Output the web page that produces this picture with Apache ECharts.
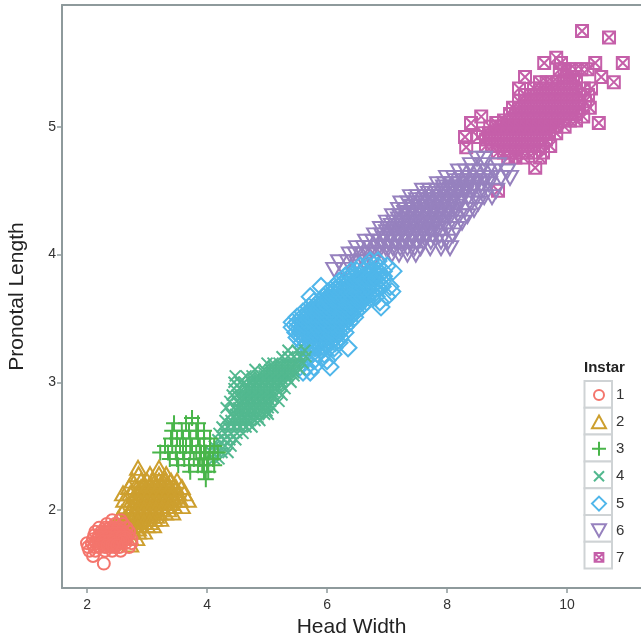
<!DOCTYPE html>
<html><head><meta charset="utf-8">
<style>html,body{margin:0;padding:0;background:#fff;overflow:hidden}#c{width:641px;height:638px}</style>
<script src="https://cdn.jsdelivr.net/npm/echarts@6/dist/echarts.min.js"></script>
</head><body><div id="c"></div>
<script>
// each row: [Pronotal Length, Head Width, Head Width, ...]
const instar1=[
[1.92,2.42,2.56],
[1.89,2.33,2.47,2.6],
[1.86,2.2,2.3,2.38,2.46,2.55,2.66],
[1.83,2.14,2.24,2.32,2.4,2.5,2.58,2.7],
[1.80,2.12,2.2,2.28,2.36,2.44,2.52,2.6,2.68],
[1.77,2.1,2.18,2.26,2.34,2.42,2.5,2.58,2.66,2.74],
[1.74,2.0,2.08,2.16,2.24,2.32,2.4,2.48,2.56,2.64,2.74],
[1.71,2.02,2.12,2.2,2.3,2.38,2.46,2.54,2.7],
[1.68,2.04,2.14,2.3,2.42,2.56],
[1.64,2.1],
[1.58,2.28],
[1.85,2.34,2.42,2.5],
[1.815,2.26,2.36,2.44,2.54,2.62],
[1.785,2.24,2.32,2.4,2.48,2.56,2.64],
[1.755,2.2,2.28,2.36,2.44,2.52,2.6],
[1.725,2.26,2.34,2.42,2.5]];
const instar2=[
[2.33,2.85,3.2],
[2.28,2.86,3.05,3.2,3.32],
[2.23,2.76,2.9,3.0,3.1,3.2,3.3,3.4,3.5],
[2.18,2.7,2.8,2.9,2.98,3.08,3.18,3.28,3.38,3.48,3.58],
[2.13,2.6,2.72,2.82,2.92,3.02,3.12,3.22,3.32,3.42,3.52,3.62],
[2.08,2.62,2.75,2.85,2.95,3.05,3.15,3.25,3.35,3.45,3.55,3.68],
[2.03,2.65,2.75,2.85,2.95,3.05,3.15,3.25,3.35,3.45,3.58],
[1.98,2.58,2.7,2.8,2.9,3.0,3.1,3.2,3.3,3.42],
[1.93,2.52,2.62,2.72,2.82,2.92,3.02,3.12,3.22],
[1.88,2.5,2.6,2.7,2.8,2.9,3.0,3.1],
[1.83,2.55,2.65,2.75,2.85,2.95],
[1.78,2.6,2.72,2.82],
[1.73,2.72],
[2.205,2.95,3.05,3.15,3.25,3.35],
[2.155,2.87,2.97,3.07,3.17,3.27,3.37,3.47],
[2.105,2.8,2.9,3.0,3.1,3.2,3.3,3.4,3.5],
[2.055,2.8,2.9,3.0,3.1,3.2,3.3,3.4],
[2.005,2.75,2.85,2.95,3.05,3.15,3.25,3.35],
[1.955,2.75,2.85,2.95,3.05,3.15],
[1.905,2.65,2.75,2.85,2.95,3.05],
[1.855,2.65,2.75,2.85]];
const instar3=[
[2.72,3.75],
[2.68,3.45,3.65,3.85],
[2.62,3.42,3.58,3.7,3.82,3.95],
[2.56,3.4,3.5,3.6,3.72,3.85,3.95,4.05],
[2.50,3.3,3.42,3.55,3.65,3.75,3.88,3.95,4.05,4.12],
[2.45,3.22,3.35,3.48,3.6,3.72,3.82,3.9,3.98,4.05,4.18],
[2.40,3.38,3.5,3.62,3.78,3.88,3.95,4.02,4.1],
[2.35,3.52,3.7,3.85,3.92,4.0,4.12],
[2.30,3.72,3.95,4.02],
[2.24,3.98]];
const instar4=[
[2.40,4.12,4.2],
[2.45,4.08,4.16,4.25,4.35],
[2.50,4.12,4.2,4.3,4.4],
[2.55,4.18,4.28,4.38,4.48],
[2.60,4.2,4.3,4.4,4.5,4.6],
[2.65,4.25,4.35,4.45,4.55,4.65,4.75],
[2.70,4.3,4.4,4.5,4.6,4.7,4.8,4.88],
[2.75,4.4,4.48,4.56,4.66,4.76,4.86,4.96,5.02],
[2.80,4.32,4.45,4.53,4.62,4.72,4.82,4.92,5.02,5.1],
[2.85,4.38,4.5,4.58,4.66,4.76,4.86,4.96,5.06,5.2],
[2.90,4.42,4.5,4.6,4.7,4.8,4.9,5.0,5.1,5.25],
[2.95,4.45,4.55,4.65,4.75,4.85,4.95,5.05,5.15,5.3],
[3.00,4.45,4.55,4.62,4.74,4.84,4.94,5.04,5.14,5.24,5.4],
[3.05,4.47,4.65,4.75,4.85,4.95,5.05,5.15,5.25,5.35,5.45],
[3.10,4.8,4.95,5.05,5.15,5.25,5.35,5.45,5.55],
[3.15,5.0,5.1,5.2,5.3,5.4,5.5,5.6],
[3.20,5.25,5.35,5.45,5.55,5.65],
[3.25,5.35,5.5,5.63],
[2.675,4.4,4.5,4.6,4.7],
[2.725,4.45,4.55,4.65,4.75,4.85],
[2.775,4.5,4.6,4.7,4.8,4.9,5.0],
[2.825,4.55,4.65,4.75,4.85,4.95,5.05],
[2.875,4.6,4.7,4.8,4.9,5.0,5.1],
[2.925,4.6,4.7,4.8,4.9,5.0,5.1,5.2],
[2.975,4.65,4.75,4.85,4.95,5.05,5.15,5.25],
[3.025,4.75,4.85,4.95,5.05,5.15,5.25,5.35],
[3.075,4.95,5.05,5.15,5.25,5.35,5.45],
[3.125,5.1,5.2,5.3,5.4,5.5]];
const instar5=[
[3.08,5.6,5.72],
[3.12,5.55,5.66,5.78,6.05],
[3.17,5.65,5.78,6.0],
[3.22,5.65,5.75,5.85,5.95,6.1],
[3.27,5.6,5.7,5.8,5.88,5.96,6.04,6.12,6.35],
[3.31,5.58,5.66,5.74,5.82,5.9,5.98,6.06,6.14,6.2],
[3.35,5.5,5.58,5.66,5.74,5.82,5.9,5.98,6.06,6.14,6.22],
[3.39,5.48,5.56,5.64,5.72,5.8,5.88,5.96,6.04,6.12,6.2,6.3],
[3.43,5.42,5.5,5.58,5.66,5.74,5.82,5.9,5.98,6.06,6.14,6.22,6.3],
[3.47,5.42,5.5,5.58,5.66,5.74,5.82,5.9,5.98,6.06,6.14,6.22,6.3,6.38],
[3.51,5.5,5.58,5.66,5.74,5.82,5.9,5.98,6.06,6.14,6.22,6.3,6.38,6.46],
[3.55,5.6,5.68,5.76,5.84,5.92,6.0,6.08,6.16,6.24,6.32,6.4,6.48],
[3.59,5.7,5.78,5.86,5.94,6.02,6.1,6.18,6.26,6.34,6.42,6.5,6.58,6.9],
[3.63,5.78,5.86,5.94,6.02,6.1,6.18,6.26,6.34,6.42,6.5,6.58,6.66,6.88],
[3.67,5.72,5.95,6.02,6.1,6.18,6.26,6.34,6.42,6.5,6.58,6.66,6.74,6.82,7.0],
[3.71,6.02,6.1,6.18,6.26,6.34,6.42,6.5,6.58,6.66,6.74,6.82,7.08],
[3.75,5.9,6.12,6.2,6.28,6.36,6.44,6.52,6.6,6.68,6.76,6.84,6.92,7.05],
[3.79,6.2,6.28,6.36,6.44,6.52,6.6,6.68,6.76,6.84,6.92],
[3.83,6.3,6.38,6.46,6.54,6.62,6.7,6.78,6.86,6.94],
[3.87,6.4,6.5,6.6,6.7,6.78,6.86,6.94,7.1],
[3.91,6.55,6.7,6.85,7.0],
[3.95,6.72,6.85],
[3.33,5.62,5.7,5.78,5.86,5.94,6.02,6.1],
[3.37,5.62,5.7,5.78,5.86,5.94,6.02,6.1,6.18],
[3.41,5.6,5.68,5.76,5.84,5.92,6.0,6.08,6.16],
[3.45,5.54,5.62,5.7,5.78,5.86,5.94,6.02,6.1,6.18,6.26],
[3.49,5.62,5.7,5.78,5.86,5.94,6.02,6.1,6.18,6.26,6.34],
[3.53,5.68,5.76,5.84,5.92,6.0,6.08,6.16,6.24,6.32,6.4],
[3.57,5.76,5.84,5.92,6.0,6.08,6.16,6.24,6.32,6.4],
[3.61,5.9,5.98,6.06,6.14,6.22,6.3,6.38,6.46,6.54],
[3.65,6.02,6.1,6.18,6.26,6.34,6.42,6.5,6.58],
[3.69,6.06,6.14,6.22,6.3,6.38,6.46,6.54,6.62,6.7],
[3.73,6.14,6.22,6.3,6.38,6.46,6.54,6.62,6.7],
[3.77,6.24,6.32,6.4,6.48,6.56,6.64,6.72,6.8],
[3.81,6.34,6.42,6.5,6.58,6.66,6.74,6.82]];
const instar6=[
[3.88,6.12,6.28],
[3.94,6.2,6.35,6.5,6.62,6.75],
[4.00,6.38,6.48,6.6,6.72,6.84,6.96,7.08,7.2,7.34,7.48],
[4.05,6.5,6.62,6.74,6.86,6.98,7.1,7.22,7.34,7.46,7.56,7.72,7.9,8.05],
[4.10,6.65,6.77,6.89,7.01,7.13,7.25,7.37,7.49,7.61,7.73,7.9,8.02],
[4.15,6.8,6.92,7.04,7.16,7.28,7.4,7.52,7.64,7.76,7.88,8.1],
[4.20,6.9,7.02,7.14,7.26,7.38,7.5,7.62,7.74,7.86,8.0,8.15],
[4.25,7.0,7.12,7.24,7.36,7.48,7.6,7.72,7.84,7.96,8.1,8.25],
[4.30,7.1,7.22,7.34,7.46,7.58,7.7,7.82,7.94,8.06,8.2,8.34],
[4.35,7.2,7.32,7.44,7.56,7.68,7.8,7.92,8.04,8.16,8.3,8.45],
[4.40,7.24,7.36,7.48,7.6,7.72,7.84,7.96,8.08,8.2,8.4,8.52],
[4.45,7.4,7.52,7.64,7.76,7.88,8.0,8.12,8.24,8.36,8.5,8.62,8.75],
[4.50,7.6,7.72,7.84,7.96,8.08,8.2,8.32,8.44,8.6,8.82],
[4.55,7.85,7.97,8.09,8.21,8.33,8.45,8.57,8.7],
[4.60,8.0,8.12,8.24,8.36,8.48,8.6,8.72,8.9,9.05],
[4.65,8.2,8.32,8.44,8.56,8.68,8.8,9.0],
[4.70,8.4,8.6,8.85],
[4.75,8.5,8.62],
[4.125,6.95,7.07,7.19,7.31,7.43,7.55],
[4.175,7.0,7.12,7.24,7.36,7.48,7.6,7.72],
[4.225,7.08,7.2,7.32,7.44,7.56,7.68,7.8],
[4.275,7.2,7.32,7.44,7.56,7.68,7.8,7.92],
[4.325,7.3,7.42,7.54,7.66,7.78,7.9,8.02],
[4.375,7.42,7.54,7.66,7.78,7.9,8.02,8.14],
[4.425,7.5,7.62,7.74,7.86,7.98,8.1,8.22],
[4.475,7.7,7.82,7.94,8.06,8.18,8.3],
[4.525,7.95,8.07,8.19,8.31,8.43],
[4.575,8.15,8.27,8.39,8.51,8.63]];
const instar7=[
[5.75,10.25],[5.70,10.7],[5.54,9.82],[5.50,9.62,9.9,10.47,10.93],
[5.45,9.88,9.96,10.04,10.14,10.24,10.34],[5.39,9.3,10.0,10.1,10.57],
[5.35,9.55,9.66,9.76,9.85,9.95,10.05,10.15,10.78],
[5.30,9.2,9.45,9.55,9.65,9.75,9.85,9.95,10.05,10.15,10.28,10.4],
[5.25,9.3,9.4,9.5,9.6,9.7,9.8,9.9,10.0,10.1,10.2,10.35],
[5.20,9.2,9.3,9.4,9.5,9.6,9.7,9.8,9.9,10.0,10.1,10.2,10.3],
[5.15,9.1,9.2,9.3,9.4,9.5,9.6,9.7,9.8,9.9,10.0,10.1,10.2,10.38],
[5.10,9.05,9.15,9.25,9.35,9.45,9.55,9.65,9.75,9.85,9.95,10.05,10.15],
[5.08,8.57,10.27],
[5.05,8.95,9.05,9.15,9.25,9.35,9.45,9.55,9.65,9.75,9.85,9.95,10.05,10.15],
[5.03,8.4,8.82,10.53],
[5.00,8.72,8.82,8.92,9.02,9.12,9.22,9.32,9.42,9.52,9.62,9.72,9.82,9.96],
[4.95,8.6,8.7,8.8,8.9,9.0,9.1,9.2,9.3,9.4,9.5,9.6,9.7,9.82],
[4.92,8.3,8.52],
[4.90,8.65,8.75,8.85,8.95,9.05,9.15,9.25,9.35,9.45,9.55,9.65],
[4.85,8.65,8.75,8.85,8.95,9.05,9.15,9.25,9.35,9.45,9.55,9.72],
[4.84,8.32],
[4.80,8.85,8.95,9.05,9.15,9.25,9.35,9.45,9.6],
[4.76,9.02,9.14,9.27,9.55],[4.68,9.47],[4.50,8.85]];
const seriesNames=['1','2','3','4','5','6','7'];
const seriesValues=[instar1,instar2,instar3,instar4,instar5,instar6,instar7];
const xTicks=[2,4,6,8,10];
const yTicks=[2,3,4,5];

const colors=['#F4756C','#CD9F2E','#49B54A','#52B88F','#4FB6EA','#9681BE','#C55FA9'];
const symbols=['circle','path://M5 0L10 9L0 9Z','path://M5 0V10M0 5H10','path://M0 0L10 10M10 0L0 10','diamond','path://M0 0L10 0L5 9Z','path://M0 0H10V10H0ZM0 0L10 10M10 0L0 10'];
const legendIcons=['path://M-1 -1M13 13M6 1A5 5 0 1 1 6 11A5 5 0 1 1 6 1Z',symbols[1],symbols[2],'path://M-2 -2M12 12M0 0L10 10M10 0L0 10','diamond',symbols[5],'path://M-3 -3M13 13M0 0H10V10H0ZM0 0L10 10M10 0L0 10'];
const sizes=[12,[16,14],16,11,[17,17],[16,14],12];
const gray='#8E9A9C';
const series=seriesNames.map((n,i)=>({
  name:n,type:'scatter',symbol:symbols[i],symbolSize:sizes[i],
  data:seriesValues[i].flatMap(([y,...xs])=>xs.map(x=>[x,y])),
  itemStyle:{color:'rgba(255,255,255,0)',borderColor:colors[i],borderWidth:2,opacity:1},
  emphasis:{disabled:true},clip:false,z:10-i,animation:false
})).reverse();

const cellTop=381,cellH=26.8;
const cells=seriesNames.map((n,i)=>({type:'rect',shape:{x:584.5,y:cellTop+i*cellH,width:27.5,height:cellH},style:{fill:'#fff',stroke:'#CFD3D5',lineWidth:2},z:20}));
const xMin=1.583,xMax=11.233;
const chart=echarts.init(document.getElementById('c'),null,{renderer:'canvas'});
chart.setOption({
  animation:false,backgroundColor:'#fff',
  textStyle:{fontFamily:'Liberation Sans'},
  grid:{left:62,top:5,width:579,height:583,show:false,outerBoundsMode:'none'},
  xAxis:[{type:'value',min:xMin,max:xMax,name:'Head Width',nameLocation:'middle',nameGap:28,
    nameTextStyle:{fontSize:21,color:'#222'},
    splitLine:{show:false},axisLine:{show:true,lineStyle:{color:gray,width:2}},
    axisTick:{show:true,length:5,lineStyle:{color:gray,width:1.5},customValues:xTicks},
    axisLabel:{color:'#333',fontSize:14,margin:10,customValues:xTicks}},
    {type:'value',position:'top',min:xMin,max:xMax,splitLine:{show:false},axisTick:{show:false},axisLabel:{show:false},
     axisLine:{show:true,lineStyle:{color:gray,width:2}}}],
  yAxis:{type:'value',min:1.389,max:5.954,name:'Pronotal Length',nameLocation:'middle',nameGap:34,
    nameTextStyle:{fontSize:21,color:'#222'},
    splitLine:{show:false},axisLine:{show:true,lineStyle:{color:gray,width:2}},
    axisTick:{show:true,length:5,lineStyle:{color:gray,width:1.5},customValues:yTicks},
    axisLabel:{color:'#333',fontSize:14,margin:6,customValues:yTicks}},
  legend:{orient:'vertical',left:591,top:387,padding:0,itemWidth:14,itemHeight:14,itemGap:11.4,selectedMode:false,
    data:seriesNames.map((n,i)=>({name:n,icon:legendIcons[i]})),textStyle:{fontSize:15,color:'#333',padding:[0,0,0,5]},z:30},
  graphic:[...cells,{type:'text',left:584,top:360,z:30,style:{text:'Instar',font:'bold 15px "Liberation Sans"',fill:'#222'}}],
  series
});
</script></body></html>
